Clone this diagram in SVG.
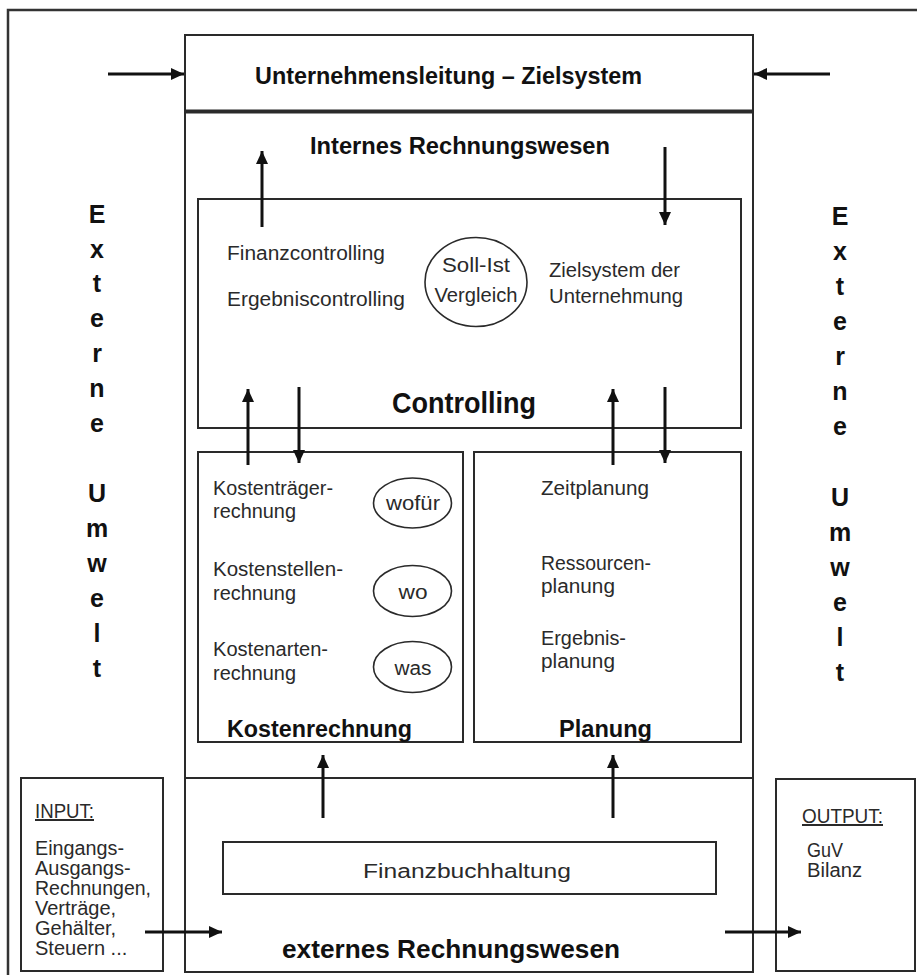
<svg xmlns="http://www.w3.org/2000/svg" width="917" height="975" viewBox="0 0 917 975">
<style>
.box{fill:none;stroke:#2a2a2a;stroke-width:2}
.ell{fill:none;stroke:#2a2a2a;stroke-width:1.6}
.con{fill:none;stroke:#111;stroke-width:3}
.t{font-family:"Liberation Sans",Arial,sans-serif;fill:#2a2a2a;font-size:20px}
.b{font-family:"Liberation Sans",Arial,sans-serif;fill:#111;font-weight:bold}
.v{font-family:"Liberation Sans",Arial,sans-serif;fill:#111;font-weight:bold;font-size:25px;text-anchor:middle}
.m{text-anchor:middle}
</style>
<defs>
<marker id="ah" markerUnits="userSpaceOnUse" markerWidth="14" markerHeight="12" refX="13" refY="6" orient="auto">
<path d="M0,0 L13,6 L0,12 z" fill="#111"/>
</marker>
</defs>
<rect x="8" y="10" width="914" height="970" fill="none" stroke="#333" stroke-width="2.5"/>

<g id="unternehmensleitung">
<rect class="box" x="185" y="35" width="568" height="77"/>
<text class="b" x="255" y="84" font-size="24" textLength="387" lengthAdjust="spacingAndGlyphs">Unternehmensleitung – Zielsystem</text>
</g>
<g id="internes-rechnungswesen">
<rect class="box" x="185" y="112" width="568" height="666"/>
<line x1="185" y1="111.5" x2="753" y2="111.5" stroke="#2a2a2a" stroke-width="4"/>
<text class="b" x="310" y="154" font-size="24" textLength="300" lengthAdjust="spacingAndGlyphs">Internes Rechnungswesen</text>
</g>
<g id="controlling">
<rect class="box" x="198" y="199" width="543" height="229"/>
<text class="t" x="227" y="260" textLength="158" lengthAdjust="spacingAndGlyphs">Finanzcontrolling</text>
<text class="t" x="227" y="306" textLength="178" lengthAdjust="spacingAndGlyphs">Ergebniscontrolling</text>
<text class="t" x="549" y="277" textLength="131" lengthAdjust="spacingAndGlyphs">Zielsystem der</text>
<text class="t" x="549" y="303" textLength="134" lengthAdjust="spacingAndGlyphs">Unternehmung</text>
<text class="b" x="392" y="413" font-size="30" textLength="144" lengthAdjust="spacingAndGlyphs">Controlling</text>
</g>
<g id="soll-ist-vergleich">
<ellipse class="ell" cx="476" cy="282" rx="51" ry="44.5"/>
<text class="t m" x="476" y="272" textLength="68" lengthAdjust="spacingAndGlyphs">Soll-Ist</text>
<text class="t m" x="476" y="302" textLength="83" lengthAdjust="spacingAndGlyphs">Vergleich</text>
</g>
<g id="kostenrechnung">
<rect class="box" x="198" y="452" width="265" height="290"/>
<text class="t" x="213" y="495" textLength="120" lengthAdjust="spacingAndGlyphs">Kostenträger-</text>
<text class="t" x="213" y="518" textLength="83" lengthAdjust="spacingAndGlyphs">rechnung</text>
<text class="t" x="213" y="576" textLength="130" lengthAdjust="spacingAndGlyphs">Kostenstellen-</text>
<text class="t" x="213" y="600" textLength="83" lengthAdjust="spacingAndGlyphs">rechnung</text>
<text class="t" x="213" y="656" textLength="115" lengthAdjust="spacingAndGlyphs">Kostenarten-</text>
<text class="t" x="213" y="680" textLength="83" lengthAdjust="spacingAndGlyphs">rechnung</text>
<text class="b" x="227" y="737" font-size="23" textLength="185" lengthAdjust="spacingAndGlyphs">Kostenrechnung</text>
</g>
<g id="wofuer">
<ellipse class="ell" cx="412.5" cy="503" rx="39" ry="25"/>
<text class="t m" x="413" y="510" textLength="54" lengthAdjust="spacingAndGlyphs">wofür</text>
</g>
<g id="wo">
<ellipse class="ell" cx="412.5" cy="591" rx="39" ry="25.5"/>
<text class="t m" x="413" y="599" textLength="29" lengthAdjust="spacingAndGlyphs">wo</text>
</g>
<g id="was">
<ellipse class="ell" cx="412.5" cy="667" rx="39" ry="25.5"/>
<text class="t m" x="413" y="675" textLength="37" lengthAdjust="spacingAndGlyphs">was</text>
</g>
<g id="planung">
<rect class="box" x="474" y="452" width="267" height="290"/>
<text class="t" x="541" y="495" textLength="108" lengthAdjust="spacingAndGlyphs">Zeitplanung</text>
<text class="t" x="541" y="570" textLength="110" lengthAdjust="spacingAndGlyphs">Ressourcen-</text>
<text class="t" x="541" y="593" textLength="74" lengthAdjust="spacingAndGlyphs">planung</text>
<text class="t" x="541" y="645" textLength="85" lengthAdjust="spacingAndGlyphs">Ergebnis-</text>
<text class="t" x="541" y="668" textLength="74" lengthAdjust="spacingAndGlyphs">planung</text>
<text class="b" x="559" y="737" font-size="23" textLength="93" lengthAdjust="spacingAndGlyphs">Planung</text>
</g>
<g id="externes-rechnungswesen">
<rect class="box" x="185" y="778" width="568" height="194"/>
<text class="b" x="282" y="958" font-size="26" textLength="338" lengthAdjust="spacingAndGlyphs">externes Rechnungswesen</text>
</g>
<g id="finanzbuchhaltung">
<rect class="box" x="223" y="842" width="493" height="52"/>
<text class="t" x="363" y="878" font-size="22" textLength="208" lengthAdjust="spacingAndGlyphs">Finanzbuchhaltung</text>
</g>
<g id="input">
<rect class="box" x="21" y="778" width="142" height="193"/>
<text class="t" x="35" y="818" font-size="19" textLength="59" lengthAdjust="spacingAndGlyphs" text-decoration="underline">INPUT:</text>
<text class="t" x="35" y="855" font-size="19" textLength="89" lengthAdjust="spacingAndGlyphs">Eingangs-</text>
<text class="t" x="35" y="875" font-size="19">Ausgangs-</text>
<text class="t" x="35" y="895" font-size="19" textLength="116" lengthAdjust="spacingAndGlyphs">Rechnungen,</text>
<text class="t" x="35" y="915" font-size="19">Verträge,</text>
<text class="t" x="35" y="935" font-size="19">Gehälter,</text>
<text class="t" x="35" y="955" font-size="19">Steuern ...</text>
</g>
<g id="output">
<rect class="box" x="776" y="779" width="139" height="192"/>
<text class="t" x="802" y="823" font-size="19" textLength="81" lengthAdjust="spacingAndGlyphs" text-decoration="underline">OUTPUT:</text>
<text class="t" x="807" y="857" font-size="19" textLength="36" lengthAdjust="spacingAndGlyphs">GuV</text>
<text class="t" x="807" y="877" font-size="19" textLength="55" lengthAdjust="spacingAndGlyphs">Bilanz</text>
</g>
<g id="externe-umwelt-links">
<text class="v" x="97" y="223">E</text>
<text class="v" x="97" y="258">x</text>
<text class="v" x="97" y="292">t</text>
<text class="v" x="97" y="327">e</text>
<text class="v" x="97" y="362">r</text>
<text class="v" x="97" y="397">n</text>
<text class="v" x="97" y="432">e</text>
<text class="v" x="97" y="502">U</text>
<text class="v" x="97" y="537">m</text>
<text class="v" x="97" y="572">w</text>
<text class="v" x="97" y="607">e</text>
<text class="v" x="97" y="642">l</text>
<text class="v" x="97" y="677">t</text>
</g>
<g id="externe-umwelt-rechts">
<text class="v" x="840" y="225">E</text>
<text class="v" x="840" y="260">x</text>
<text class="v" x="840" y="295">t</text>
<text class="v" x="840" y="330">e</text>
<text class="v" x="840" y="365">r</text>
<text class="v" x="840" y="400">n</text>
<text class="v" x="840" y="435">e</text>
<text class="v" x="840" y="506">U</text>
<text class="v" x="840" y="541">m</text>
<text class="v" x="840" y="576">w</text>
<text class="v" x="840" y="611">e</text>
<text class="v" x="840" y="646">l</text>
<text class="v" x="840" y="681">t</text>
</g>
<g id="connectors">
<line class="con" x1="108" y1="74" x2="184" y2="74" marker-end="url(#ah)"/>
<line class="con" x1="830" y1="74" x2="754" y2="74" marker-end="url(#ah)"/>
<line class="con" x1="262" y1="227" x2="262" y2="151" marker-end="url(#ah)"/>
<line class="con" x1="665" y1="147" x2="665" y2="225" marker-end="url(#ah)"/>
<line class="con" x1="248" y1="465" x2="248" y2="389" marker-end="url(#ah)"/>
<line class="con" x1="299" y1="387" x2="299" y2="463" marker-end="url(#ah)"/>
<line class="con" x1="613" y1="465" x2="613" y2="389" marker-end="url(#ah)"/>
<line class="con" x1="665" y1="387" x2="665" y2="463" marker-end="url(#ah)"/>
<line class="con" x1="323" y1="818" x2="323" y2="755" marker-end="url(#ah)"/>
<line class="con" x1="613" y1="818" x2="613" y2="755" marker-end="url(#ah)"/>
<line class="con" x1="145" y1="932" x2="222" y2="932" marker-end="url(#ah)"/>
<line class="con" x1="725" y1="932" x2="801" y2="932" marker-end="url(#ah)"/>
</g>
</svg>
